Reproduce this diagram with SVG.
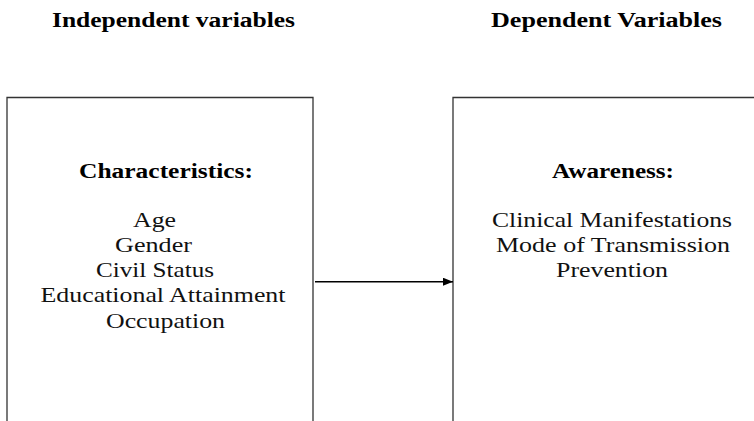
<svg xmlns="http://www.w3.org/2000/svg" width="754" height="421" viewBox="0 0 754 421">
<style>
text{font-family:"Liberation Serif","Times New Roman",serif;fill:#000;text-anchor:middle}
.h{font-weight:bold;font-size:20px}
.t{font-weight:bold;font-size:20px}
.b{font-size:21px;fill:#111}
.box{fill:none;stroke:#333;stroke-width:1.3}
.edge{stroke:#000;stroke-width:1.5;fill:none}
</style>
<defs>
<marker id="ah" markerWidth="10" markerHeight="8" refX="10" refY="4" orient="auto" markerUnits="userSpaceOnUse">
<path d="M0,0 L10,4 L0,8 Z" fill="#000"/>
</marker>
</defs>
<g id="headers">
<text class="h" x="173.5" y="27" textLength="243" lengthAdjust="spacingAndGlyphs">Independent variables</text>
<text class="h" x="606.5" y="27" textLength="231" lengthAdjust="spacingAndGlyphs">Dependent Variables</text>
</g>
<g id="independent">
<path class="box" d="M7,430 V97.5 H313 V430"/>
<text class="t" x="166" y="178" textLength="174" lengthAdjust="spacingAndGlyphs">Characteristics:</text>
<text class="b" x="154.5" y="227" textLength="43" lengthAdjust="spacingAndGlyphs">Age</text>
<text class="b" x="153.5" y="252" textLength="77" lengthAdjust="spacingAndGlyphs">Gender</text>
<text class="b" x="155" y="277" textLength="118" lengthAdjust="spacingAndGlyphs">Civil Status</text>
<text class="b" x="163" y="302" textLength="245" lengthAdjust="spacingAndGlyphs">Educational Attainment</text>
<text class="b" x="165.5" y="328" textLength="119" lengthAdjust="spacingAndGlyphs">Occupation</text>
</g>
<g id="dependent">
<path class="box" d="M453,430 V97.5 H760"/>
<text class="t" x="613" y="178" textLength="122" lengthAdjust="spacingAndGlyphs">Awareness:</text>
<text class="b" x="612" y="227" textLength="240" lengthAdjust="spacingAndGlyphs">Clinical Manifestations</text>
<text class="b" x="613" y="252" textLength="234" lengthAdjust="spacingAndGlyphs">Mode of Transmission</text>
<text class="b" x="612" y="277" textLength="112" lengthAdjust="spacingAndGlyphs">Prevention</text>
</g>
<g id="connectors">
<line class="edge" x1="315" y1="281.7" x2="453" y2="281.7" marker-end="url(#ah)"/>
</g>
</svg>
